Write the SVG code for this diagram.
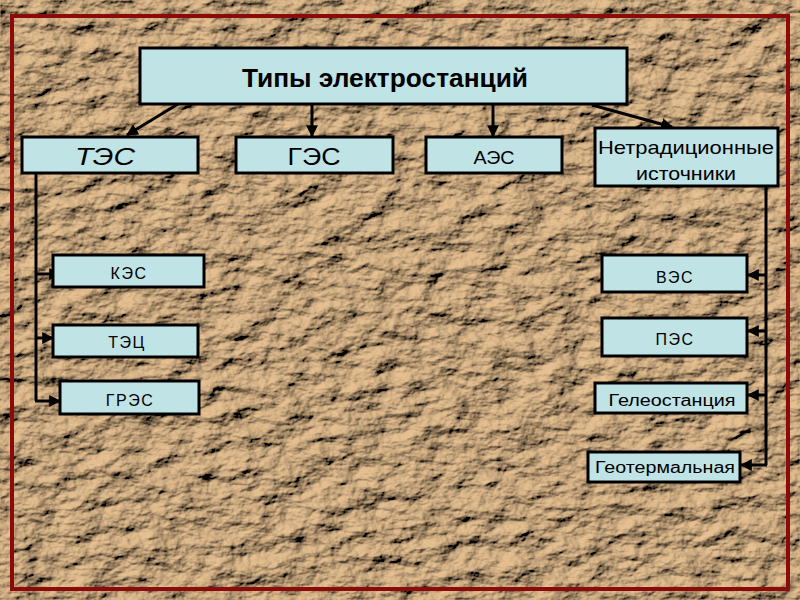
<svg xmlns="http://www.w3.org/2000/svg" width="800" height="600" viewBox="0 0 800 600">
<style>
.box{fill:#c0e3e6;stroke:#000;stroke-width:3}
.t{font-family:"Liberation Sans",Arial,sans-serif;fill:#000;text-anchor:middle}
.s{font-size:16px;letter-spacing:1.5px}
.c{stroke:#000;stroke-width:3;fill:none}
</style>
<defs>
<filter id="paper" x="0" y="0" width="100%" height="100%">
<feTurbulence type="fractalNoise" baseFrequency="0.03 0.05" numOctaves="5" seed="11" result="n"/>
<feDiffuseLighting in="n" surfaceScale="9" diffuseConstant="1.05" lighting-color="#e2bd8f" result="l">
<feDistantLight azimuth="225" elevation="42"/>
</feDiffuseLighting>
</filter>
<marker id="ah" viewBox="0 0 10 10" refX="9" refY="5" markerWidth="4" markerHeight="4" orient="auto" markerUnits="strokeWidth">
<path d="M0,0 L10,5 L0,10 z" fill="#000"/>
</marker>
</defs>
<rect x="0" y="0" width="800" height="600" fill="#a8845c"/>
<rect x="0" y="0" width="800" height="600" filter="url(#paper)"/>
<rect x="12" y="16" width="776" height="573" fill="none" stroke="#8b0a0a" stroke-width="4"/>

<g id="connectors">
<line class="c" x1="178" y1="104" x2="127" y2="135" marker-end="url(#ah)"/>
<line class="c" x1="312" y1="104" x2="312" y2="136" marker-end="url(#ah)"/>
<line class="c" x1="493" y1="104" x2="493" y2="136" marker-end="url(#ah)"/>
<line class="c" x1="592" y1="105" x2="672" y2="127" marker-end="url(#ah)"/>
<polyline class="c" points="36,174 36,401"/>
<line class="c" x1="35" y1="274" x2="60" y2="274" marker-end="url(#ah)"/>
<line class="c" x1="35" y1="338" x2="53" y2="338" marker-end="url(#ah)"/>
<line class="c" x1="35" y1="401" x2="60" y2="401" marker-end="url(#ah)"/>
<polyline class="c" points="766,187 766,465"/>
<line class="c" x1="767" y1="275" x2="748" y2="275" marker-end="url(#ah)"/>
<line class="c" x1="767" y1="331" x2="748" y2="331" marker-end="url(#ah)"/>
<line class="c" x1="767" y1="395" x2="748" y2="395" marker-end="url(#ah)"/>
<line class="c" x1="767" y1="465" x2="741" y2="465" marker-end="url(#ah)"/>
</g>

<g id="root"><rect class="box" x="140" y="48" width="487" height="56"/>
<text class="t" x="385" y="87" font-size="25" font-weight="bold" textLength="286" lengthAdjust="spacingAndGlyphs">Типы электростанций</text></g>

<g id="tes"><rect class="box" x="22" y="137" width="176" height="36"/>
<text class="t" x="105" y="165" font-size="24" font-style="italic" textLength="60" lengthAdjust="spacingAndGlyphs">ТЭС</text></g>
<g id="ges"><rect class="box" x="236" y="137" width="157" height="36"/>
<text class="t" x="314" y="165" font-size="24" textLength="53" lengthAdjust="spacingAndGlyphs">ГЭС</text></g>
<g id="aes"><rect class="box" x="426" y="137" width="136" height="36"/>
<text class="t" x="494" y="164" font-size="19" textLength="41" lengthAdjust="spacingAndGlyphs">АЭС</text></g>
<g id="netr"><rect class="box" x="595" y="128" width="183" height="58"/>
<text class="t" x="686" y="154" font-size="19" textLength="176" lengthAdjust="spacingAndGlyphs">Нетрадиционные</text>
<text class="t" x="686" y="180" font-size="19" textLength="100" lengthAdjust="spacingAndGlyphs">источники</text></g>

<g id="kes"><rect class="box" x="53" y="255" width="151" height="32"/>
<text class="t s" x="129" y="279">КЭС</text></g>
<g id="tec"><rect class="box" x="53" y="325" width="145" height="32"/>
<text class="t s" x="127" y="348">ТЭЦ</text></g>
<g id="gres"><rect class="box" x="60" y="381" width="139" height="33"/>
<text class="t s" x="130" y="406">ГРЭС</text></g>

<g id="ves"><rect class="box" x="602" y="255" width="145" height="37"/>
<text class="t s" x="675" y="283">ВЭС</text></g>
<g id="pes"><rect class="box" x="602" y="318" width="145" height="38"/>
<text class="t s" x="675" y="345">ПЭС</text></g>
<g id="geleo"><rect class="box" x="595" y="383" width="152" height="30"/>
<text class="t" x="672" y="406" font-size="16" textLength="127" lengthAdjust="spacingAndGlyphs">Гелеостанция</text></g>
<g id="geoterm"><rect class="box" x="588" y="452" width="152" height="30"/>
<text class="t" x="665" y="473" font-size="16" textLength="140" lengthAdjust="spacingAndGlyphs">Геотермальная</text></g>
</svg>
